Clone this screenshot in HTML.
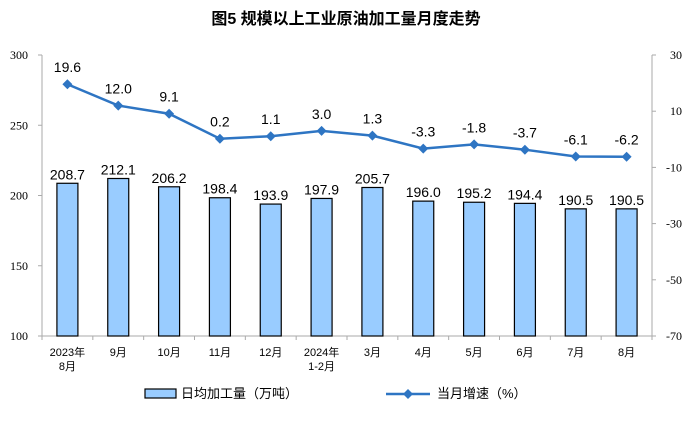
<!DOCTYPE html>
<html><head><meta charset="utf-8"><style>
body{margin:0;background:#fff;}
svg text{font-family:"Liberation Sans","Noto Sans CJK SC",sans-serif;}
</style></head><body>
<svg width="693" height="433">
<text x="346" y="24" text-anchor="middle" font-size="16" font-weight="bold" style="font-family:'Liberation Sans','Noto Sans CJK SC',sans-serif">图5  规模以上工业原油加工量月度走势</text>
<g id="axes"></g><g id="bars"></g><g id="line"></g>
<g>
<rect x="145" y="389" width="31" height="9" fill="#99ccff" stroke="#000" stroke-width="1.2"/>
<text x="181" y="398" font-size="13">日均加工量（万吨）</text>
<line x1="386" y1="394" x2="430" y2="394" stroke="#2e75c3" stroke-width="2.5"/>
<path d="M408 389 L413 394 L408 399 L403 394Z" fill="#2e75c3"/>
<text x="437" y="398" font-size="13">当月增速（%）</text>
</g>
</svg>
<script>
const categories=[["2023年","8月"],["9月"],["10月"],["11月"],["12月"],["2024年","1-2月"],["3月"],["4月"],["5月"],["6月"],["7月"],["8月"]];
const volume=[208.7,212.1,206.2,198.4,193.9,197.9,205.7,196.0,195.2,194.4,190.5,190.5];
const growth=[19.6,12.0,9.1,0.2,1.1,3.0,1.3,-3.3,-1.8,-3.7,-6.1,-6.2];
const leftTicks=[100,150,200,250,300];
const rightTicks=[-70,-50,-30,-10,10,30];
const NS="http://www.w3.org/2000/svg";
const X0=42,X1=652,Y0=336,Y1=55;
const step=(X1-X0)/categories.length;
const xc=i=>X0+step*(i+0.5);
const yl=v=>Y0-(v-100)/200*(Y0-Y1);
const yr=v=>Y0-(v+70)/100*(Y0-Y1);
function mk(t,a,p){const e=document.createElementNS(NS,t);for(const k in a)e.setAttribute(k,a[k]);p.appendChild(e);return e;}
const ax=document.getElementById('axes'),bg=document.getElementById('bars'),lg=document.getElementById('line');
let e=mk('line',{x1:X0,y1:Y1,x2:X0,y2:Y0,stroke:'#aaa'},ax);


e=mk('line',{x1:X1,y1:Y1,x2:X1,y2:Y0,stroke:'#aaa'},ax);


e=mk('line',{x1:X0,y1:Y0,x2:X1,y2:Y0,stroke:'#aaa'},ax);


leftTicks.forEach(v=>{mk('line',{x1:X0-4,x2:X0,y1:yl(v),y2:yl(v),stroke:'#aaa'},ax);
const t=mk('text',{x:X0-14,y:yl(v)+4,'text-anchor':'end','font-size':12,style:'font-family:"Liberation Serif",serif'},ax);t.textContent=v;

});
rightTicks.forEach(v=>{mk('line',{x1:X1,x2:X1+4,y1:yr(v),y2:yr(v),stroke:'#aaa'},ax);
const t=mk('text',{x:X1+30,y:yr(v)+4,'text-anchor':'end','font-size':12,style:'font-family:"Liberation Serif",serif'},ax);t.textContent=v;

});
for(let i=0;i<=categories.length;i++)mk('line',{x1:X0+step*i,x2:X0+step*i,y1:Y0,y2:Y0+4,stroke:'#aaa'},ax);
categories.forEach((c,i)=>{c.forEach((s,j)=>{const t=mk('text',{x:xc(i),y:356+j*14,'text-anchor':'middle','font-size':11},ax);t.textContent=s;

});});
volume.forEach((v,i)=>{const r=mk('rect',{x:xc(i)-10.5,y:yl(v),width:21,height:Y0-yl(v),fill:'#99ccff',stroke:'#000','stroke-width':1.2},bg);


const t=mk('text',{x:xc(i),y:yl(v)-4,'text-anchor':'middle','font-size':14},bg);t.textContent=v.toFixed(1);

});
const pl=mk('polyline',{points:growth.map((v,i)=>xc(i)+','+yr(v)).join(' '),fill:'none',stroke:'#2e75c3','stroke-width':2.5},lg);


growth.forEach((v,i)=>{const x=xc(i),y=yr(v);const p=mk('path',{d:`M${x} ${y-5}L${x+5} ${y}L${x} ${y+5}L${x-5} ${y}Z`,fill:'#2e75c3'},lg);


const t=mk('text',{x:x,y:y-12,'text-anchor':'middle','font-size':14},lg);t.textContent=v.toFixed(1);

});
</script>
</body></html>
